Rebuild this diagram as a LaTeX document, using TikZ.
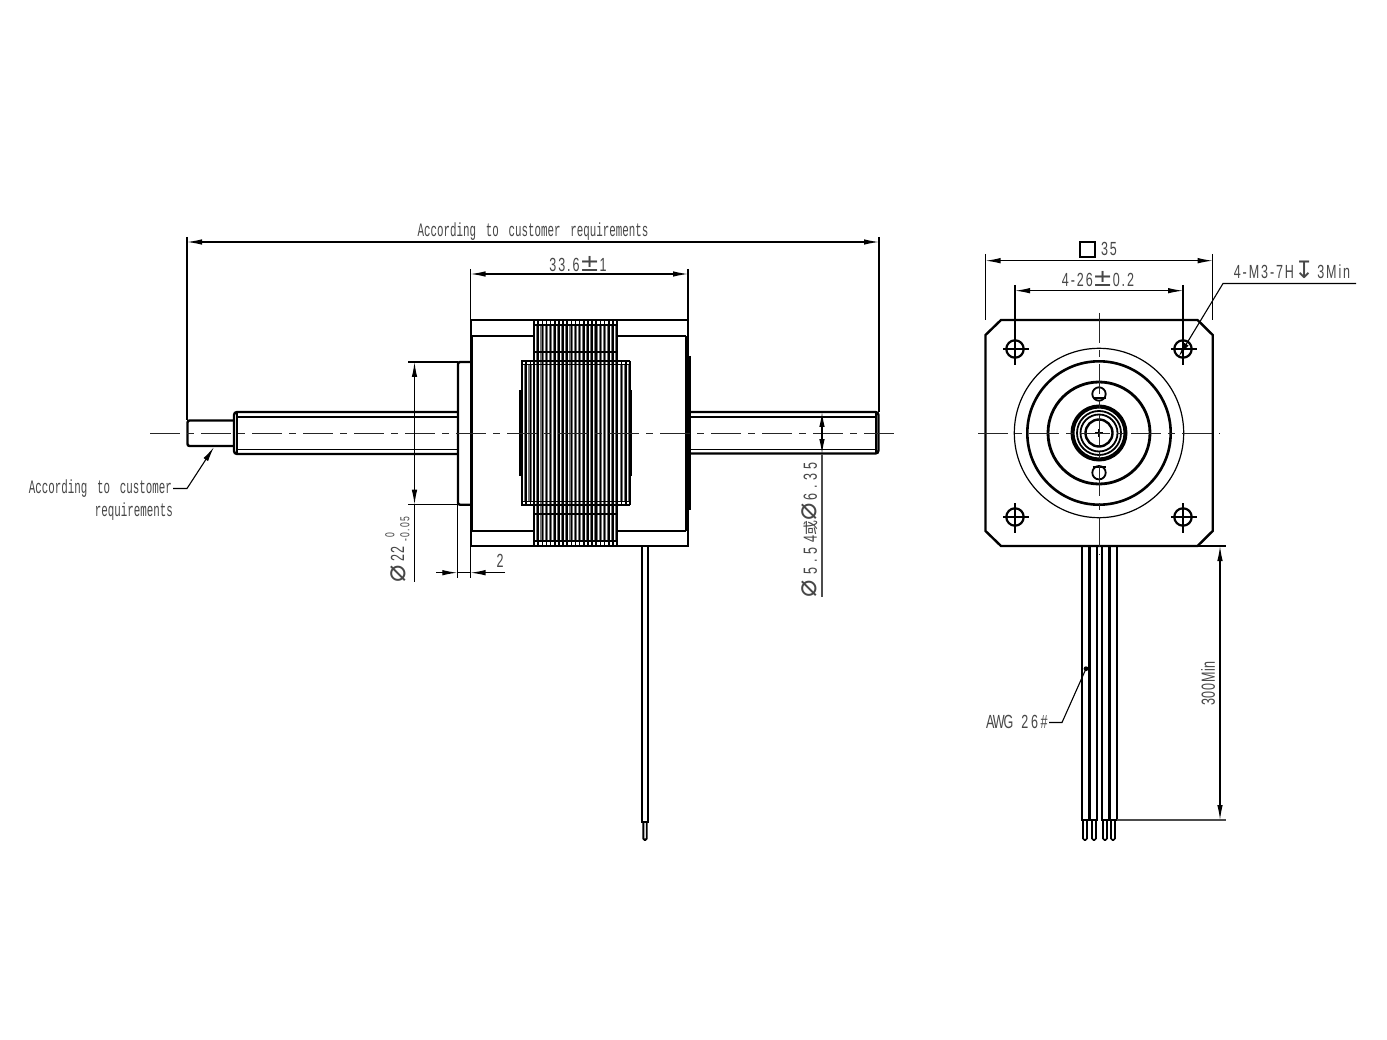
\documentclass[tikz,border=0pt]{standalone}
\usepackage{fontspec}
\setmainfont[FakeStretch=0.57,WordSpace=1.5]{Liberation Mono}
\newfontfamily\numfont[FakeStretch=0.66,LetterSpace=10]{Liberation Sans}
\newfontfamily\symfont{DejaVu Sans}
\newfontfamily\cjkfont{Noto Sans CJK SC}
\usetikzlibrary{arrows.meta}
\newcommand{\dia}{{\symfont\fontsize{29}{29}\selectfont ⌀}}
\newcommand{\plmi}{{\symfont\fontsize{24}{24}\selectfont ±}}
\tikzset{
  label/.style={inner sep=0pt,text=black!72,font=\fontsize{19}{22}\selectfont},
  numlabel/.style={inner sep=0pt,text=black!72,font=\fontsize{19}{22}\selectfont\numfont},
  thin line/.style={line width=1.1pt},
  thick line/.style={line width=2.4pt},
  mid line/.style={line width=1.9pt},
  heavy line/.style={line width=3pt},
  dim/.style={line width=1.1pt,<->,>={Latex[length=15pt,width=5.5pt]}},
  tip/.style={line width=1.1pt,->,>={Latex[length=15pt,width=5.5pt]}},
  center line/.style={line width=0.9pt,black!85,dash pattern=on 30pt off 7pt on 7pt off 7pt},
  wire/.style={line width=1.9pt}
}
\begin{document}
\begin{tikzpicture}[x=1pt,y=-1pt]
  \useasboundingbox[fill=white] (0,0) rectangle (1387,1040);

  \fill[black!55] (534,325) rectangle (617,541);
  \fill[black!55] (521.5,364) rectangle (629.5,502);
  \foreach \hx in {534,538.15,...,618}
    \draw[white,line width=0.5pt] (\hx+1.5,320) -- (\hx+1.5,546);
  \foreach \hx in {522,526.15,...,534,617.5,621.65,...,630}
    \draw[white,line width=0.5pt] (\hx+1.5,361) -- (\hx+1.5,505);
  \foreach \hx in {534,538.15,...,618}
    \draw[line width=1.6pt] (\hx,320) -- (\hx,546);
  \foreach \hx in {522,526.15,...,534,617.5,621.65,...,630}
    \draw[line width=1.6pt] (\hx,361) -- (\hx,505);

  \draw[mid line] (521.5,361) rectangle (629.5,505);
  \draw[thick line] (534,320) -- (534,361) (617,320) -- (617,361);
  \draw[thick line] (534,505) -- (534,546) (617,505) -- (617,546);
  \draw[thick line] (520,390) -- (520,476) (631,390) -- (631,476);
  \draw[mid line] (534,325) -- (617,325) (534,352) -- (617,352);
  \draw[mid line] (521.5,364.5) -- (629.5,364.5) (521.5,501.5) -- (629.5,501.5);
  \draw[mid line] (534,514) -- (617,514) (534,541) -- (617,541);

  \draw[thick line] (471,320) -- (688,320) -- (688,546) -- (471,546);
  \draw[thin line] (471,320) -- (471,336) (471,531) -- (471,546);
  \draw[heavy line] (471,336) -- (471,531);
  \draw[mid line] (471,336) -- (534,336) (617,336) -- (686,336);
  \draw[mid line] (471,531) -- (534,531) (617,531) -- (686,531);
  \draw[thin line] (686,336) -- (686,531);
  \draw[heavy line] (689,356) -- (689,510);

  \draw[thick line,rounded corners=2pt] (470.5,362) -- (458,362) -- (458,504.7) -- (470.5,504.7);
  \draw[thick line,rounded corners=2pt] (233,420.5) -- (187.5,420.5) -- (187.5,446) -- (233,446);
  \draw[thick line,rounded corners=3pt] (458,412) -- (234,412) -- (234,454) -- (458,454);
  \draw[thin line] (237,412) -- (237,454);
  \draw[thin line] (237,417) -- (458,417) (237,449.5) -- (458,449.5);
  \draw[thick line,rounded corners=3pt] (690,412) -- (878.5,412) -- (878.5,453.5) -- (690,453.5);
  \draw[thick line] (876,412) -- (876,453.5);
  \draw[thin line] (690,417) -- (876,417) (690,449.5) -- (876,449.5);
  \draw[center line] (150,433) -- (897,433);

  \draw[wire] (642,546) -- (642,822) -- (648,822) -- (648,546);
  \draw[wire,rounded corners=1.5pt] (643.3,822) -- (643.3,840) -- (646.7,840) -- (646.7,822);

  \coordinate (AllL) at (187,242);
  \coordinate (AllR) at (879,242);
  \draw[dim] (AllL) -- (AllR);
  \draw[thin line] (187,237) -- (187,420) (879,237) -- (879,412);
  \node[label] (AllText) at (533,232) {According to customer requirements};

  \coordinate (BodyL) at (470.5,274);
  \coordinate (BodyR) at (688,274);
  \draw[dim] (BodyL) -- (BodyR);
  \draw[thin line] (470.5,269) -- (470.5,320) (688,269) -- (688,320);
  \node[numlabel] (BodyText) at (578,264) {33.6\plmi 1};

  \coordinate (BossT) at (414.5,362);
  \coordinate (BossB) at (414.5,504.7);
  \draw[dim] (BossT) -- (BossB);
  \draw[thin line] (BossB) -- (414.5,582);
  \draw[thin line] (408,362) -- (458,362) (408,504.7) -- (458,504.7);
  \node[numlabel,rotate=90] (BossDia) at (398,574) {\dia};
  \node[numlabel,rotate=90] (BossVal) at (397.5,554) {22};
  \node[numlabel,rotate=90,font=\fontsize{13}{13}\selectfont\numfont] (BossUp) at (390,535) {0};
  \node[numlabel,rotate=90,font=\fontsize{13}{13}\selectfont\numfont] (BossLo) at (405,529) {-0.05};

  \coordinate (StepL) at (457.3,572.7);
  \coordinate (StepR) at (470.5,572.7);
  \draw[tip] (436,572.7) -- (StepL);
  \draw[tip] (505,572.7) -- (StepR);
  \draw[line width=1.1pt] (StepL) -- (StepR);
  \draw[thin line] (457.3,504.7) -- (457.3,578) (470.5,546) -- (470.5,578);
  \node[numlabel] (StepText) at (500,561) {2};

  \coordinate (ShaftT) at (822,412);
  \coordinate (ShaftB) at (822,454);
  \draw[dim] (ShaftT) -- (ShaftB);
  \draw[line width=1.2pt,black!70] (ShaftB) -- (822,597);
  \node[numlabel,rotate=90] (ShaftText) at (810,530) {\addfontfeature{LetterSpace=24}\dia\,\,5.54{\cjkfont\fontsize{15}{15}\selectfont 或}\dia\,6.35};

  \node[label,anchor=east] (StubText) at (172,488.5) {According to customer};
  \node[label,anchor=east] (StubText2) at (173,511.5) {requirements};
  \coordinate (StubTip) at (214,447);
  \draw[tip] (StubText.east) ++(1,0) -- (187,488.5) -- (StubTip);

  \draw[thick line] (1001,320) -- (1197.5,320) -- (1212.7,335) -- (1212.7,531) -- (1197.5,546) -- (1001,546) -- (985.5,531) -- (985.5,335) -- cycle;

  \foreach \hname/\hx/\hy in {HoleA/1015/349,HoleB/1183/349,HoleC/1015/517,HoleD/1183/517}{
    \node[circle,draw,line width=2.2pt,minimum size=17.4pt,inner sep=0pt] (\hname) at (\hx,\hy) {};
    \draw[thin line] (\hx-12,\hy) -- (\hx+14,\hy) (\hx,\hy-14) -- (\hx,\hy+16);
  }
  \draw[line width=1.2pt] (1099,433) circle (84.7);
  \draw[line width=2.6pt] (1099,433) circle (71.7);
  \draw[line width=2.8pt] (1099,433) circle (51);
  \draw[line width=4pt] (1099,433) circle (26.5);
  \draw[line width=1.8pt] (1099,433) circle (22);
  \draw[line width=1.8pt] (1099,433) circle (18.5);
  \draw[line width=2.4pt] (1099,433) circle (13.5);
  \draw[thin line] (1095,433) -- (1103,433) (1099,429) -- (1099,437);
  \node[circle,draw,line width=1.8pt,minimum size=13.4pt,inner sep=0pt] (PinT) at (1099,394) {};
  \node[circle,draw,line width=1.8pt,minimum size=13.4pt,inner sep=0pt] (PinB) at (1099,472.7) {};
  \draw[line width=1.8pt] (1092.5,398) -- (1105.5,398) (1092.5,467) -- (1105.5,467);
  \draw[center line] (978,433) -- (1220,433);
  \draw[center line] (1099,313) -- (1099,555);

  \coordinate (SideL) at (985.5,260.7);
  \coordinate (SideR) at (1212.7,260.7);
  \draw[dim] (SideL) -- (SideR);
  \draw[thin line] (985.5,254) -- (985.5,320) (1212.7,254) -- (1212.7,320);
  \node[draw,thin line,minimum size=15pt,inner sep=0pt] (SideBox) at (1087.5,249.5) {};
  \node[numlabel] (SideText) at (1109,249) {35};

  \coordinate (PitchL) at (1015,290.7);
  \coordinate (PitchR) at (1183,290.7);
  \draw[dim] (PitchL) -- (PitchR);
  \draw[thin line] (1015,285) -- (1015,335) (1183,285) -- (1183,335);
  \node[numlabel] (PitchText) at (1098,279) {4-26\plmi 0.2};

  \node[numlabel] (HoleText) at (1292,270) {4-M3-7H{\symfont\fontsize{24}{24}\selectfont ↧}\,3Min};
  \coordinate (HoleTip) at (1178.5,357);
  \draw[tip] (1356,283.5) -- (1223,283.5) -- (HoleTip);

  \foreach \wx in {1082,1089.5,1102,1109.5}
    \draw[wire] (\wx,546) -- (\wx,820) -- (\wx+7.5,820) -- (\wx+7.5,546);
  \draw[line width=3pt] (1089.5,546) -- (1089.5,820) (1109.5,546) -- (1109.5,820);
  \foreach \wx in {1085,1094,1105,1113}
    \draw[line width=1.6pt,rounded corners=1.5pt] (\wx-2,820) -- (\wx-2,840) -- (\wx+2,840) -- (\wx+2,820);

  \coordinate (LeadT) at (1220,546);
  \coordinate (LeadB) at (1220,820);
  \draw[dim] (LeadT) -- (LeadB);
  \draw[thin line] (1198,546) -- (1226,546);
  \draw[line width=1.1pt,black!70] (1117,820) -- (1226,820);
  \node[numlabel,rotate=90] (LeadText) at (1208,683.5) {\addfontfeature{LetterSpace=4}300Min};

  \node[numlabel,anchor=west] (WireText) at (986,722) {\addfontfeature{LetterSpace=-6}AWG\hspace{8pt}\addfontfeature{LetterSpace=14}26\#};
  \coordinate (WireDot) at (1086,668.7);
  \fill (WireDot) circle (2.4);
  \draw[line width=1.1pt] (1049,722.5) -- (1062,722.5) -- (WireDot);
\end{tikzpicture}
\end{document}
